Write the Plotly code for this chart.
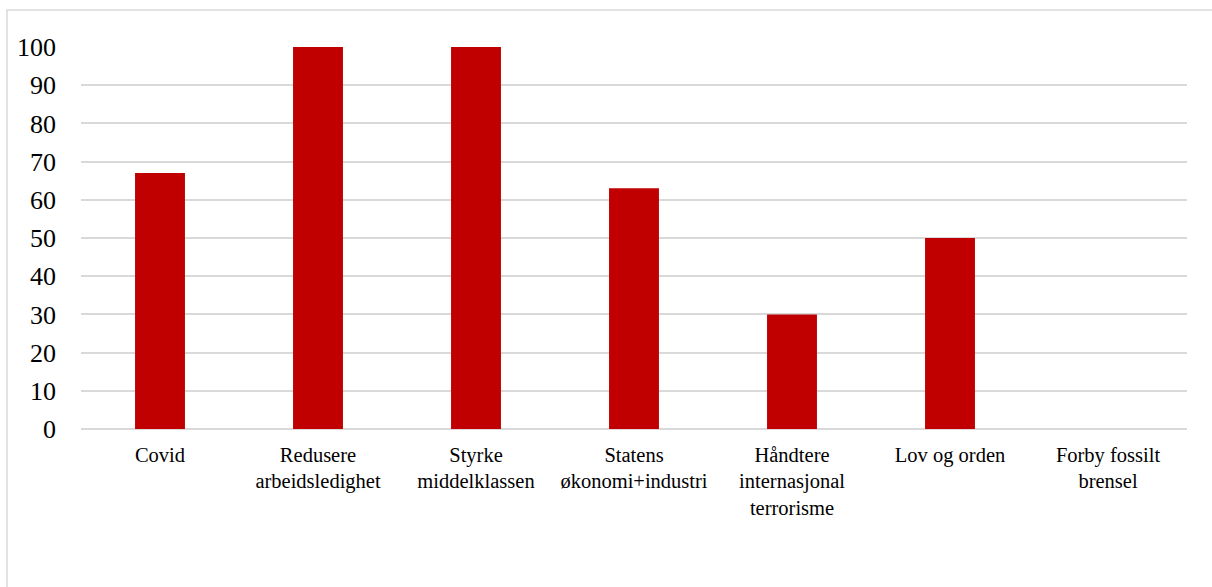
import plotly.graph_objects as go

categories = [
    "Covid",
    "Redusere<br>arbeidsledighet",
    "Styrke<br>middelklassen",
    "Statens<br>økonomi+industri",
    "Håndtere<br>internasjonal<br>terrorisme",
    "Lov og orden",
    "Forby fossilt<br>brensel",
]
values = [67, 100, 100, 63, 30, 50, 0]
y_ticks = list(range(0, 101, 10))

W, H = 1212, 587
ml, mr, mt, mb = 81, 25, 47, 158
SERIF = "Liberation Serif"

fig = go.Figure(
    go.Bar(
        x=categories,
        y=values,
        marker=dict(color="#C00000", line=dict(width=0)),
    )
)

pw = W - ml - mr
ph = H - mt - mb

fig.update_layout(
    width=W,
    height=H,
    margin=dict(l=ml, r=mr, t=mt, b=mb, pad=0),
    paper_bgcolor="white",
    plot_bgcolor="white",
    bargap=0.684,
    showlegend=False,
    font=dict(family=SERIF, color="#000000"),
    xaxis=dict(
        showgrid=False,
        showline=False,
        ticks="",
        tickfont=dict(family=SERIF, size=20.5, color="#000000"),
        ticklabelstandoff=11,
        tickangle=0,
    ),
    yaxis=dict(
        range=[0, 100],
        tickvals=y_ticks,
        showgrid=True,
        gridcolor="#d9d9d9",
        gridwidth=1.5,
        zeroline=True,
        zerolinecolor="#d9d9d9",
        zerolinewidth=1.5,
        showline=False,
        ticks="",
        tickfont=dict(family=SERIF, size=26, color="#000000"),
        ticklabelstandoff=24,
        fixedrange=True,
    ),
    shapes=[
        dict(
            type="rect",
            xref="paper",
            yref="paper",
            x0=(7 - ml) / pw,
            x1=1.2,
            y0=-1.0,
            y1=(H - mb - 10) / ph,
            line=dict(color="#d9d9d9", width=1.5),
            fillcolor="rgba(0,0,0,0)",
            layer="below",
        )
    ],
)

fig.write_html("out.html")
